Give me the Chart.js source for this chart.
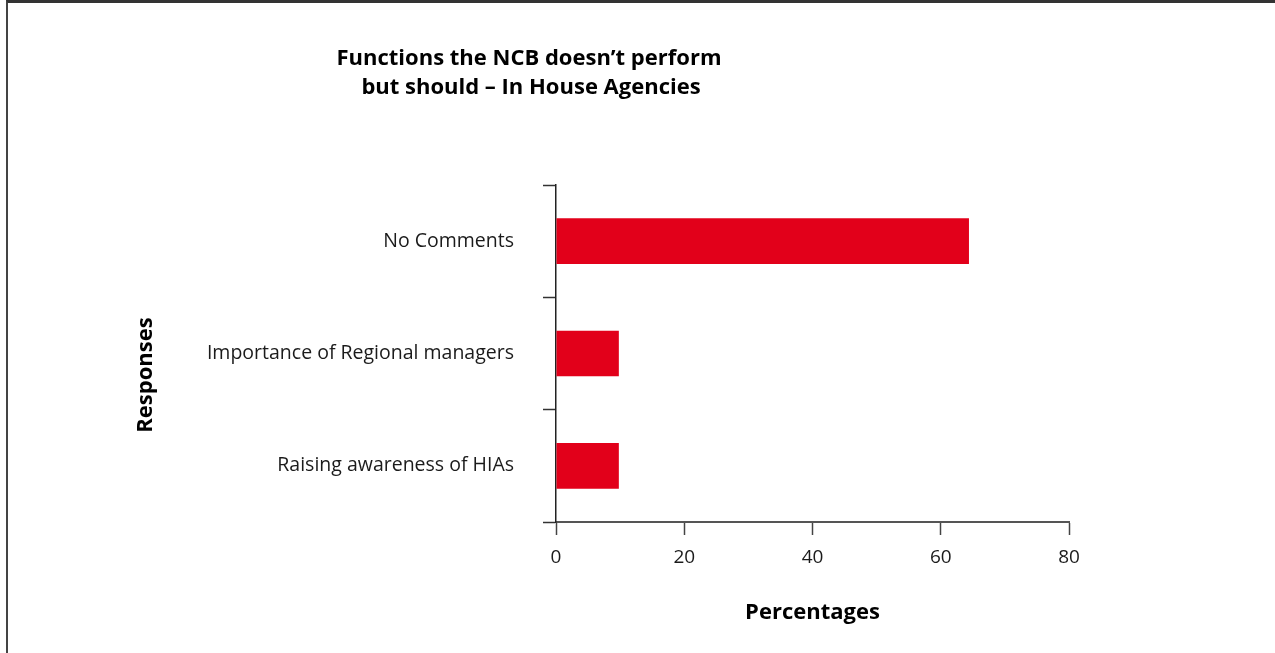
<!DOCTYPE html>
<html>
<head>
<meta charset="utf-8">
<title>Functions the NCB doesn't perform but should</title>
<script src="https://cdn.jsdelivr.net/npm/chart.js@4.4.1/dist/chart.umd.min.js"></script>
<style>
    html, body { margin: 0; padding: 0; background: #fff; }
    .wrap { position: relative; width: 1275px; height: 653px; overflow: hidden; }
    .frame {
        position: absolute; left: 6px; top: 0; right: 0; bottom: 0;
        border-left: 2px solid #444; border-top: 3px solid #333;
        pointer-events: none;
    }
    canvas { position: absolute; left: 0; top: 0; }
</style>
</head>
<body>
<div class="wrap">
    <canvas id="ncbChart" width="1275" height="653"></canvas>
    <div class="frame"></div>
</div>
<script>
// ===== DATA =====
const categories = ['No Comments', 'Importance of Regional managers', 'Raising awareness of HIAs'];
const percentages = [64.4, 9.8, 9.8];
const xTicks = [0, 20, 40, 60, 80];
const titleLines = ['Functions the NCB doesn\u2019t perform', 'but should \u2013 In House Agencies'];

const FONT = '"Open Sans", "DejaVu Sans", sans-serif';
const BAR_RED = '#E2001A';
const TEXT = '#1b1b1b';

// ===== TITLES (drawn in fixed spots, title is not centred on the plot) =====
const labelsPlugin = {
    id: 'labels',
    afterDraw(chart) {
        const ctx = chart.ctx;
        const area = chart.chartArea;
        ctx.save();
        ctx.fillStyle = '#000';
        ctx.textAlign = 'center';
        ctx.textBaseline = 'alphabetic';
        ctx.font = 'bold 22px ' + FONT;
        ctx.fillText(titleLines[0], 529, 65);
        ctx.fillText(titleLines[1], 531, 94);

        // x axis title
        ctx.fillText('Percentages', (area.left + area.right) / 2, 619);

        // y axis title, rotated
        ctx.translate(152, 375);
        ctx.rotate(-Math.PI / 2);
        ctx.fillText('Responses', 0, 0);
        ctx.restore();
    }
};

const ctx = document.getElementById('ncbChart');
new Chart(ctx, {
    type: 'bar',
    data: {
        labels: categories,
        datasets: [{
            data: percentages,
            backgroundColor: BAR_RED,
            borderWidth: 0,
            categoryPercentage: 1,
            barPercentage: 0.407
        }]
    },
    options: {
        indexAxis: 'y',
        responsive: false,
        animation: false,
        layout: {
            padding: { left: 0, top: 185, right: 206, bottom: 0 }
        },
        plugins: {
            legend: { display: false },
            tooltip: { enabled: false }
        },
        scales: {
            x: {
                min: xTicks[0],
                max: xTicks[xTicks.length - 1],
                afterBuildTicks: function(scale) {
                    scale.ticks = xTicks.map(v => ({ value: v }));
                },
                afterFit: function(scale) {
                    scale.height = 131;
                },
                grid: {
                    drawOnChartArea: false,
                    drawTicks: true,
                    tickLength: 13,
                    tickWidth: 1.5,
                    color: '#444'
                },
                border: { display: true, color: '#555', width: 2 },
                ticks: {
                    padding: 11,
                    color: TEXT,
                    font: { family: FONT, size: 19 }
                }
            },
            y: {
                afterFit: function(scale) {
                    scale.width = 556;
                },
                grid: {
                    offset: true,
                    drawOnChartArea: false,
                    drawTicks: true,
                    tickLength: 13,
                    tickWidth: 1.5,
                    color: '#333'
                },
                border: { display: true, color: '#222', width: 1.5 },
                ticks: {
                    padding: 29,
                    color: TEXT,
                    font: { family: FONT, size: 19.5 }
                }
            }
        }
    },
    plugins: [labelsPlugin]
});
</script>
</body>
</html>
